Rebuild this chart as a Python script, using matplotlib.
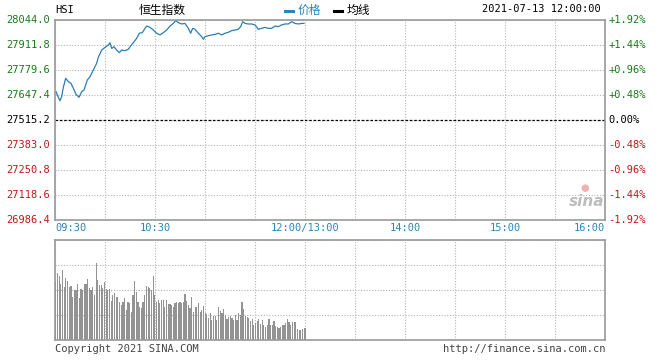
import matplotlib.pyplot as plt
import numpy as np

plt.rcParams['font.family'] = ['DejaVu Sans Mono', 'Noto Sans CJK SC']

# minutes after 09:30 and index value
minutes = [0.6, 1.4, 3, 4, 5, 6.4, 8, 9.6, 11, 12.6, 14.4, 16, 17.4, 19.4, 21, 23, 25, 26,
           28, 30, 32, 33, 34, 35.4, 37, 38.6, 40, 42, 44, 45.4, 47, 49, 50.6, 52.4, 54, 55,
           57, 59, 61, 63, 65, 67, 69, 71, 72.4, 74, 76, 78, 80, 81.4, 82.6, 84, 86, 88, 89,
           90, 92, 94, 96, 98, 100, 102, 104, 106, 108, 110, 111.4, 112.6, 114, 116, 118, 120,
           122, 124, 126, 128, 130, 132, 134, 136, 138, 140, 142, 144, 146, 148, 149.4]
price = [27665, 27647, 27617, 27639, 27688, 27736, 27718, 27709, 27683, 27651, 27635, 27665,
         27674, 27727, 27744, 27780, 27815, 27847, 27885, 27899, 27912, 27924, 27894, 27903,
         27885, 27871, 27885, 27882, 27889, 27907, 27924, 27947, 27974, 27977, 28000, 28012,
         28005, 27991, 27974, 27965, 27977, 27991, 28012, 28026, 28040, 28030, 28023, 28026,
         28000, 27974, 28000, 27995, 27974, 27956, 27942, 27956, 27961, 27965, 27968, 27974,
         27965, 27974, 27979, 27988, 27991, 27995, 28009, 28035, 28026, 28023, 28023, 28018,
         27995, 28000, 28005, 28000, 28000, 28012, 28009, 28018, 28023, 28023, 28035, 28026,
         28023, 28026, 28026]

# per-minute volume (relative units, 100 = panel top)
volume = [58, 67, 64, 56, 70, 53, 62, 59, 53, 54, 43, 50, 50, 56, 42, 51, 50, 56, 56, 61,
          52, 50, 53, 45, 77, 60, 55, 55, 52, 58, 51, 50, 51, 39, 45, 47, 43, 43, 38, 35,
          38, 42, 30, 38, 37, 28, 45, 59, 48, 38, 33, 32, 38, 45, 54, 53, 52, 50, 64, 45,
          38, 40, 37, 40, 40, 33, 40, 36, 36, 35, 33, 37, 38, 37, 38, 37, 38, 46, 39, 35,
          32, 43, 28, 33, 33, 37, 28, 30, 34, 27, 26, 22, 27, 20, 24, 24, 20, 33, 29, 27,
          31, 25, 21, 23, 24, 22, 20, 25, 20, 27, 25, 38, 31, 24, 23, 22, 19, 21, 15, 17,
          19, 21, 16, 20, 15, 13, 15, 21, 15, 15, 19, 14, 13, 12, 13, 15, 15, 17, 21, 18,
          15, 18, 18, 18, 11, 10, 10, 11, 12, 12]

prev_close = 27515.2
left_ticks = [28044.0, 27911.8, 27779.6, 27647.4, 27515.2, 27383.0, 27250.8, 27118.6, 26986.4]
right_ticks = ['+1.92%', '+1.44%', '+0.96%', '+0.48%', '0.00%', '-0.48%', '-0.96%', '-1.44%', '-1.92%']
time_labels = ['09:30', '10:30', '12:00/13:00', '14:00', '15:00', '16:00']
time_pos = [0, 60, 150, 210, 270, 330]

green = '#1a7a1a'
red = '#c01818'
blue = '#2a86b8'
grey = '#999999'

fig = plt.figure(figsize=(6.6, 3.6), dpi=100)
W, H = 660, 360
ax = fig.add_axes([55 / W, 1 - 220 / H, 550 / W, 200 / H])
axv = fig.add_axes([55 / W, 1 - 340 / H, 550 / W, 100 / H])

for a in (ax, axv):
    a.set_xlim(0, 330)
    for s in a.spines.values():
        s.set_color(grey)
        s.set_linewidth(1.2)
    a.set_xticks(np.arange(0, 331, 30))
    a.tick_params(length=0, labelbottom=False, labelleft=False)
    a.grid(True, color='#b4b4b4', linestyle=(0, (1, 1.5)), linewidth=0.8)
    a.set_axisbelow(True)

ax.set_ylim(left_ticks[-1], left_ticks[0])
ax.set_yticks(left_ticks)
ax.axhline(prev_close, color='black', linestyle=(0, (2, 1.5)), linewidth=0.9)
ax.plot(minutes, price, color='#2b7db5', linewidth=0.9)

for v, r in zip(left_ticks, right_ticks):
    c = green if v > prev_close else (red if v < prev_close else 'black')
    ax.text(-3, v, '%.1f' % v, ha='right', va='center', fontsize=7.5, color=c,
            transform=ax.transData, clip_on=False)
    ax.text(332, v, r, ha='left', va='center', fontsize=7.5, color=c, clip_on=False)

for t, lab in zip(time_pos, time_labels):
    ha = 'left' if t == 0 else ('right' if t == 330 else 'center')
    ax.text(t, left_ticks[-1] - 42, lab, ha=ha, va='center', fontsize=7.5, color=blue,
            clip_on=False)

axv.set_ylim(0, 100)
axv.set_yticks([0, 25, 50, 75, 100])
vx = np.arange(len(volume)) * 150 / (len(volume) - 1) + 0.5
axv.bar(vx, volume, width=0.7, color='#939393', linewidth=0)

# header
fig.text(55 / W, 1 - 10 / H, 'HSI', fontsize=7.5, va='center', ha='left')
fig.text(162 / W, 1 - 10 / H, '恒生指数', fontsize=8.5, va='center', ha='center',
         family=['Noto Sans CJK SC'])
fig.add_artist(plt.Line2D([285 / W, 293 / W], [1 - 11 / H] * 2, color='#2a86b8', lw=2.2))
fig.text(298 / W, 1 - 10 / H, '价格', fontsize=8.5, va='center', color=blue,
         family=['Noto Sans CJK SC'])
fig.add_artist(plt.Line2D([334 / W, 342 / W], [1 - 11 / H] * 2, color='black', lw=2.2))
fig.text(347 / W, 1 - 10 / H, '均线', fontsize=8.5, va='center', color='black',
         family=['Noto Sans CJK SC'])
fig.text(601 / W, 1 - 9 / H, '2021-07-13 12:00:00', fontsize=7.5, va='center', ha='right')

fig.text(55 / W, 1 - 349 / H, 'Copyright 2021 SINA.COM', fontsize=7.5, va='center',
         color='#444444')
fig.text(605 / W, 1 - 349 / H, 'http://finance.sina.com.cn', fontsize=7.5, va='center',
         ha='right', color='#444444')

# watermark
fig.text(587 / W, 1 - 202 / H, 'sina', fontsize=11, style='italic', weight='bold',
         color='#bdbdbd', ha='center', va='center', family=['DejaVu Sans'])
fig.text(585 / W, 1 - 188 / H, '●', fontsize=7, color='#f2b0b0', ha='center', va='center',
         family=['DejaVu Sans'])

fig.savefig('out.png', dpi=100, facecolor='white')
